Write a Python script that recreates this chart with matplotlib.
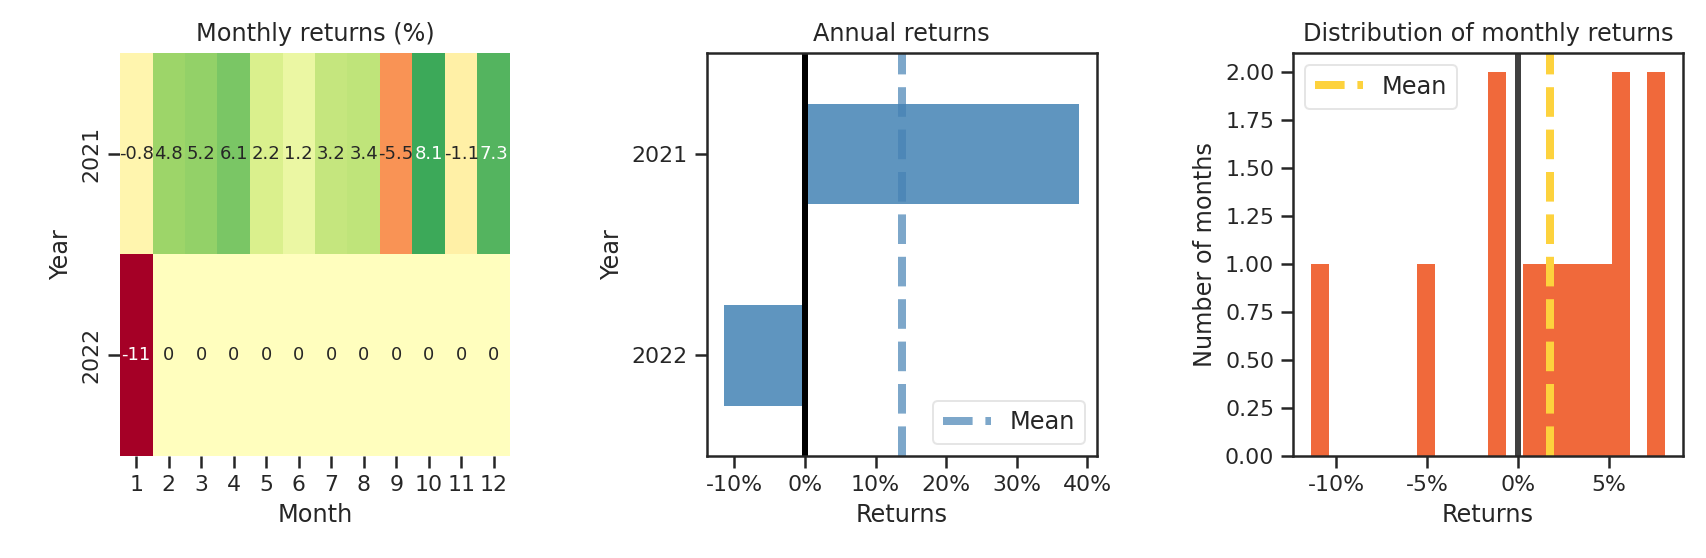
import numpy as np
import matplotlib
matplotlib.use('Agg')
import matplotlib.pyplot as plt
from matplotlib.ticker import FuncFormatter, MultipleLocator
import seaborn as sns

# monthly returns in percent (2022 only has January, the rest is missing)
years = [2021, 2022]
months = list(range(1, 13))
ret_2021 = [-0.8, 4.8, 5.2, 6.1, 2.2, 1.2, 3.2, 3.4, -5.5, 8.1, -1.1, 7.3]
ret_2022 = [-11.4] + [np.nan] * 11

# annual returns in percent
annual_years = [2022, 2021]
annual_ret = [-11.4, 38.8]

sns.set_style('ticks')
sns.set_context('notebook')
plt.rcParams['font.family'] = ['DejaVu Sans']

W, H = 1706, 558
fig = plt.figure(figsize=(W / 144, H / 144), dpi=144)


def box(x0, x1, y0, y1):
    return [x0 / W, 1 - y1 / H, (x1 - x0) / W, (y1 - y0) / H]


pct = FuncFormatter(lambda x, pos: '{:.0f}%'.format(x))

# Monthly returns heatmap
ax1 = fig.add_axes(box(120, 510, 53, 455.7))
table = np.array([ret_2021, ret_2022])
sns.heatmap(np.nan_to_num(table, nan=0.0), annot=True, annot_kws={'size': 9},
            center=0.0, cbar=False, cmap='RdYlGn', ax=ax1,
            xticklabels=months, yticklabels=years)
for t in ax1.get_yticklabels():
    t.set_rotation(90)
    t.set_va('center')
ax1.set_ylabel('Year')
ax1.set_xlabel('Month')
ax1.set_title('Monthly returns (%)')

# Annual returns
ax2 = fig.add_axes(box(706.7, 1096.7, 53.3, 456))
mean_line = ax2.axvline(np.mean(annual_ret), color='steelblue', linestyle='--',
                        lw=4, alpha=0.7)
ax2.barh(range(len(annual_years)), annual_ret, height=0.5, color='#5f95bf',
         linewidth=0)
ax2.axvline(0.0, color='black', linestyle='-', lw=3)
ax2.set_ylim(-0.5, len(annual_years) - 0.5)
ax2.set_yticks(range(len(annual_years)))
ax2.set_yticklabels([str(y) for y in annual_years])
ax2.xaxis.set_major_locator(MultipleLocator(10))
ax2.xaxis.set_major_formatter(pct)
ax2.set_ylabel('Year')
ax2.set_xlabel('Returns')
ax2.set_title('Annual returns')
ax2.legend([mean_line], ['Mean'], loc='lower right', frameon=True,
           framealpha=0.5, fontsize=12)

# Distribution of monthly returns
ax3 = fig.add_axes(box(1293.3, 1682.7, 53.3, 456))
vals = [v for v in ret_2021 + ret_2022 if not np.isnan(v)]
ax3.hist(vals, bins=20, color='#f0693b', linewidth=0)
mean3 = ax3.axvline(np.mean(vals), color='#fdd23d', linestyle='--', lw=4)
ax3.axvline(0.0, color='black', linestyle='-', lw=3, alpha=0.75)
ax3.xaxis.set_major_formatter(pct)
ax3.set_ylabel('Number of months')
ax3.set_xlabel('Returns')
ax3.set_title('Distribution of monthly returns')
ax3.legend([mean3], ['Mean'], loc='upper left', frameon=True,
           framealpha=0.5, fontsize=12)

fig.savefig('out.png', dpi=144)
